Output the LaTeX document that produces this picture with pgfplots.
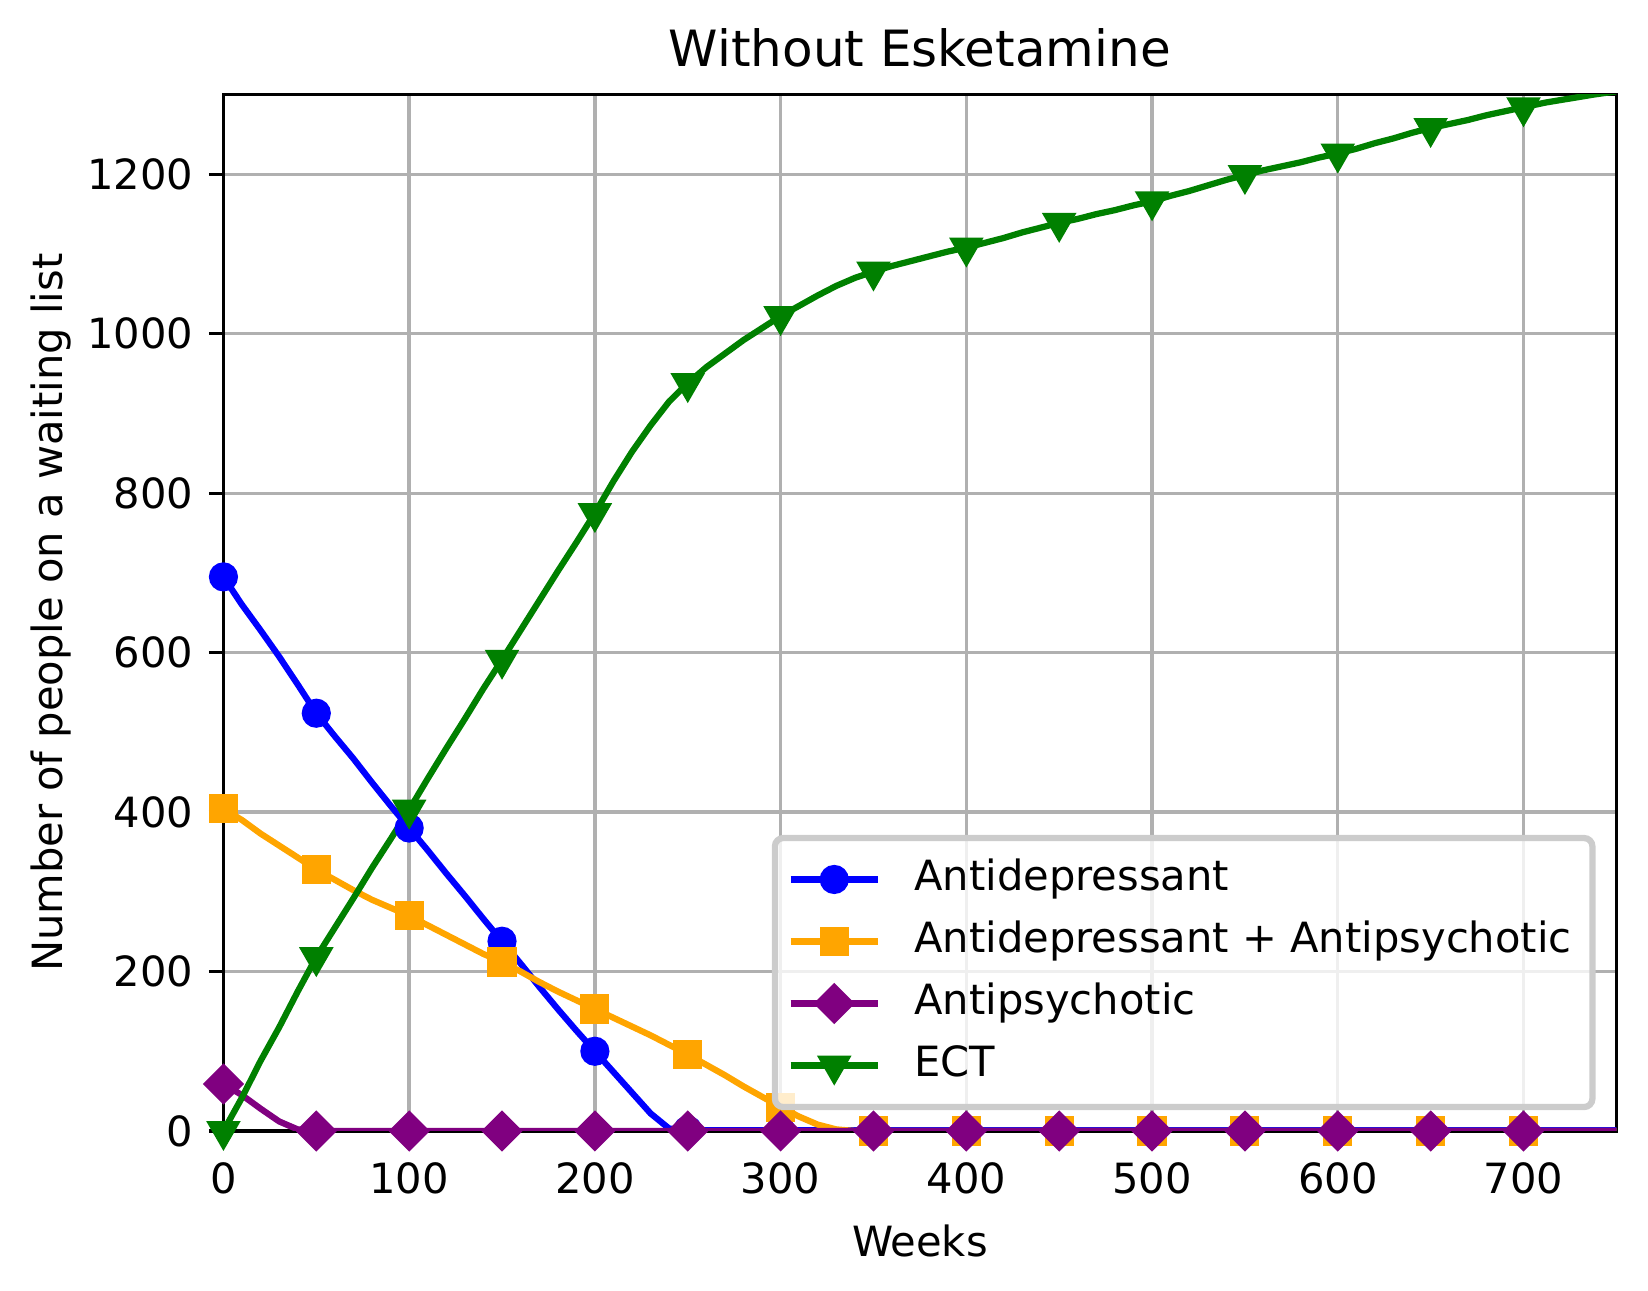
\documentclass[border=0pt]{standalone}
\usepackage{pgfplots}
\usepackage{pgfplotstable}
\pgfplotsset{compat=1.18}
\usepackage{fontspec}
\setmainfont{DejaVu Sans}

% weekly waiting list sizes, read every 10 weeks
\pgfplotstableread{
w    ad   adap  ap  ect
0    695  404   59  0
10   660  390   45  42
20   628  373   28  88
30   595  358   12  130
40   560  343   2   175
50   524  328   0   218
60   495  315   0   255
70   467  302   0   292
80   437  290   0   330
90   408  280   0   366
100  380  270   0   403
110  352  258   0   442
120  323  246   0   480
130  295  234   0   517
140  266  222   0   555
150  238  212   0   591
160  210  200   0   628
170  181  187   0   665
180  153  175   0   702
190  126  164   0   738
200  100  153   0   775
210  74   142   0   815
220  48   131   0   852
230  22   120   0   885
240  3    108   0   915
250  1    96    0   938
260  1    83    0   958
270  1    70    0   975
280  1    56    0   992
290  1    43    0   1007
300  1    30    0   1022
310  1    18    0   1035
320  1    8     0   1048
330  1    2     0   1060
340  1    0     0   1070
350  1    0     0   1078
360  1    0     0   1085
370  1    0     0   1091
380  1    0     0   1097
390  1    0     0   1103
400  1    0     0   1108
410  1    0     0   1114
420  1    0     0   1120
430  1    0     0   1127
440  1    0     0   1133
450  1    0     0   1139
460  1    0     0   1144
470  1    0     0   1150
480  1    0     0   1155
490  1    0     0   1161
500  1    0     0   1166
510  1    0     0   1173
520  1    0     0   1179
530  1    0     0   1186
540  1    0     0   1193
550  1    0     0   1199
560  1    0     0   1205
570  1    0     0   1210
580  1    0     0   1215
590  1    0     0   1221
600  1    0     0   1226
610  1    0     0   1232
620  1    0     0   1239
630  1    0     0   1245
640  1    0     0   1252
650  1    0     0   1258
660  1    0     0   1263
670  1    0     0   1268
680  1    0     0   1274
690  1    0     0   1279
700  1    0     0   1284
712  1    0     0   1290
725  1    0     0   1295
738  1    0     0   1300
750  1    0     0   1304
}\waiting

\definecolor{mplorange}{RGB}{255,165,0}
\definecolor{mplpurple}{RGB}{128,0,128}
\definecolor{mplgreen}{RGB}{0,128,0}
\definecolor{gridgray}{RGB}{176,176,176}

\begin{document}
\begin{tikzpicture}
\begin{axis}[
    scale only axis,
    width=334.5pt, height=248.9pt,
    xmin=0, xmax=750, ymin=0, ymax=1300,
    xtick={0,100,...,700},
    ytick={0,200,...,1200},
    tick pos=left,
    tick align=outside,
    major tick length=3.5pt,
    every tick/.style={black, line width=0.8pt},
    axis line style={line width=0.8pt},
    grid=major,
    grid style={gridgray, line width=0.8pt},
    /pgf/number format/assume math mode=true,
    /pgf/number format/set thousands separator={},
    ticklabel style={font=\fontsize{10}{12}\selectfont},
    yticklabel style={xshift=0.3pt},
    title={Without Esketamine},
    title style={font=\fontsize{12}{14}\selectfont, yshift=-3.5pt},
    xlabel={Weeks},
    ylabel={Number of people on a waiting list},
    ylabel shift=-3.5pt,
    label style={font=\fontsize{10}{12}\selectfont},
    line width=1.5pt,
    mark repeat=5,
    legend cell align=left,
    legend image code/.code={%
        \draw[#1,/tikz/mark repeat=2,/tikz/mark phase=2,fill opacity=1,draw opacity=1]
        plot coordinates {(0pt,0pt) (10.5pt,0pt) (21pt,0pt)};},
    legend style={
        at={(rel axis cs:1,0)}, anchor=south east,
        xshift=-5pt, yshift=5pt,
        draw=black!20, fill=white, fill opacity=0.8, text opacity=1,
        rounded corners=2pt,
        font=\fontsize{10}{12}\selectfont,
        row sep=1pt,
        inner xsep=3pt, inner ysep=3pt,
        nodes={text height=7.6pt, text depth=2.3pt, inner ysep=2pt},
        /tikz/every odd column/.append style={column sep=6pt},
    },
]
\addplot[blue, mark=*, mark size=3pt, mark options={line width=1pt}]
    table[x=w, y=ad] {\waiting};
\addlegendentry{Antidepressant}
\addplot[mplorange, mark=square*, mark size=3pt, mark options={line width=1pt}]
    table[x=w, y=adap] {\waiting};
\addlegendentry{Antidepressant + Antipsychotic}
\addplot[mplpurple, mark=square*, mark size=3pt, mark options={line width=1pt, rotate=45}]
    table[x=w, y=ap] {\waiting};
\addlegendentry{Antipsychotic}
\addplot[mplgreen, mark=triangle*, mark size=3.8pt, mark options={line width=1pt, rotate=180}]
    table[x=w, y=ect] {\waiting};
\addlegendentry{ECT}
\end{axis}
\path ([shift={(-4pt,-4.6pt)}]current bounding box.south west)
      ([shift={(7.2pt,3.5pt)}]current bounding box.north east);
\end{tikzpicture}
\end{document}
